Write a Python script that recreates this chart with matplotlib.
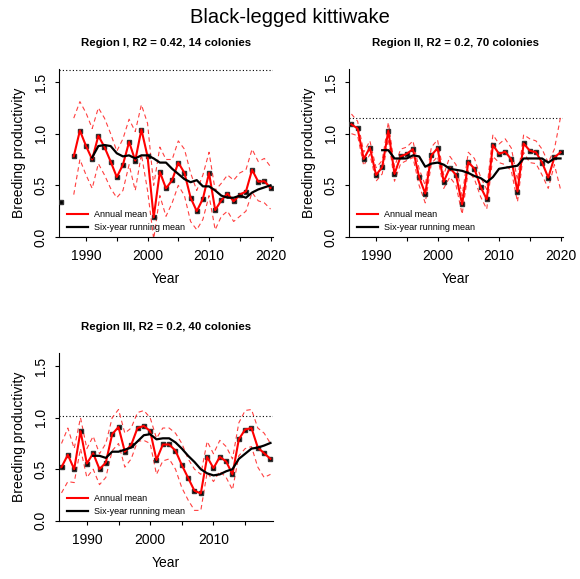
import numpy as np
import matplotlib
matplotlib.use("Agg")
import matplotlib.pyplot as plt

plt.rcParams["font.family"] = ["Liberation Sans", "DejaVu Sans"]

# Valores (productividad reproductiva)
anios_1 = list(range(1986, 2021))
media_1 = [0.335, np.nan, 0.78, 1.03, 0.88, 0.75, 0.98, 0.87, 0.73, 0.58,
           0.70, 0.92, 0.74, 1.04, 0.78, 0.19, 0.63, 0.47, 0.55, 0.72,
           0.62, 0.38, 0.25, 0.37, 0.62, 0.26, 0.355, 0.42, 0.345, 0.41,
           0.44, 0.65, 0.535, 0.54, 0.475]
sup_1 = [np.nan, np.nan, 1.15, 1.31, 1.20, 1.05, 1.25, 1.15, 1.00, 0.83,
         0.95, 1.14, 1.02, 1.28, 1.10, 0.50, 0.87, 0.75, 0.75, 0.93,
         0.85, 0.62, 0.45, 0.60, 0.82, 0.45, 0.52, 0.60, 0.55, 0.62,
         0.65, 0.85, 0.73, 0.76, 0.68]
inf_1 = [np.nan, np.nan, 0.41, 0.75, 0.60, 0.47, 0.71, 0.60, 0.47, 0.38,
         0.45, 0.70, 0.45, 0.80, 0.45, -0.02, 0.40, 0.20, 0.33, 0.50,
         0.40, 0.15, 0.07, 0.17, 0.40, 0.07, 0.20, 0.25, 0.15, 0.20,
         0.25, 0.43, 0.35, 0.33, 0.27]
movil_1 = [np.nan] * 5 + [0.77, 0.88, 0.89, 0.88, 0.81, 0.78, 0.79, 0.76,
                          0.79, 0.79, 0.76, 0.72, 0.72, 0.66, 0.61, 0.56,
                          0.53, 0.55, 0.49, 0.49, 0.45, 0.40, 0.38, 0.38,
                          0.40, 0.38, 0.43, 0.46, 0.48, 0.50]

anios_2 = list(range(1986, 2021))
media_2 = [1.09, 1.05, 0.755, 0.865, 0.60, 0.675, 1.03, 0.61, 0.78, 0.805,
           0.85, 0.58, 0.42, 0.79, 0.86, 0.535, 0.67, 0.60, 0.315, 0.725,
           0.66, 0.485, 0.365, 0.89, 0.805, 0.825, 0.75, 0.44, 0.905, 0.835,
           0.82, 0.72, 0.575, 0.77, 0.82]
sup_2 = [1.19, 1.12, 0.82, 0.93, 0.67, 0.74, 1.11, 0.68, 0.85, 0.87,
         0.93, 0.66, 0.50, 0.87, 0.94, 0.60, 0.78, 0.70, 0.40, 0.82,
         0.76, 0.58, 0.46, 0.99, 0.90, 0.95, 0.86, 0.55, 0.99, 0.95,
         0.93, 0.85, 0.72, 0.85, 1.16]
inf_2 = [1.00, 0.98, 0.69, 0.80, 0.54, 0.61, 0.95, 0.54, 0.71, 0.74,
         0.77, 0.50, 0.33, 0.71, 0.78, 0.47, 0.58, 0.50, 0.22, 0.64,
         0.56, 0.39, 0.27, 0.78, 0.72, 0.70, 0.64, 0.34, 0.82, 0.72,
         0.71, 0.60, 0.47, 0.70, 0.46]
movil_2 = [np.nan] * 5 + [0.84, 0.84, 0.76, 0.76, 0.76, 0.79, 0.78, 0.68,
                          0.71, 0.72, 0.70, 0.66, 0.65, 0.64, 0.62, 0.59,
                          0.57, 0.53, 0.58, 0.66, 0.67, 0.68, 0.69, 0.76,
                          0.76, 0.76, 0.76, 0.72, 0.76, 0.76]

anios_3 = list(range(1986, 2020))
media_3 = [0.52, 0.64, 0.50, 0.87, 0.555, 0.655, 0.50, 0.565, 0.84, 0.91,
           0.67, 0.735, 0.90, 0.92, 0.87, 0.59, 0.74, 0.74, 0.68, 0.54,
           0.415, 0.29, 0.265, 0.62, 0.51, 0.62, 0.575, 0.45, 0.79, 0.885,
           0.90, 0.71, 0.655, 0.60]
sup_3 = [0.75, 0.90, 0.70, 1.00, 0.70, 0.82, 0.65, 0.75, 1.00, 1.08,
         0.85, 0.90, 1.05, 1.07, 1.00, 0.80, 0.90, 0.90, 0.85, 0.75,
         0.60, 0.50, 0.45, 0.77, 0.65, 0.78, 0.72, 0.60, 0.95, 1.07,
         1.08, 0.90, 0.85, 0.75]
inf_3 = [0.27, 0.38, 0.37, 0.70, 0.42, 0.50, 0.35, 0.42, 0.68, 0.75,
         0.52, 0.60, 0.77, 0.78, 0.75, 0.45, 0.58, 0.60, 0.50, 0.32,
         0.20, 0.10, 0.10, 0.47, 0.38, 0.48, 0.42, 0.30, 0.63, 0.70,
         0.72, 0.52, 0.42, 0.45]
movil_3 = [np.nan] * 5 + [0.63, 0.63, 0.61, 0.67, 0.67, 0.69, 0.71, 0.77,
                          0.83, 0.84, 0.79, 0.80, 0.80, 0.76, 0.70, 0.63,
                          0.57, 0.50, 0.46, 0.44, 0.45, 0.48, 0.50, 0.60,
                          0.65, 0.70, 0.71, 0.73, 0.755]

titulos = ["Region I, R2 = 0.42, 14 colonies",
           "Region II, R2 = 0.2, 70 colonies",
           "Region III, R2 = 0.2, 40 colonies"]
referencias = [1.62, 1.15, 1.015]

paneles = [
    (anios_1, media_1, sup_1, inf_1, movil_1),
    (anios_2, media_2, sup_2, inf_2, movil_2),
    (anios_3, media_3, sup_3, inf_3, movil_3),
]

# Posiciones de los ejes en fraccion de la figura (580x579 px)
posiciones = [
    [0.1017, 0.5907, 0.369, 0.290],
    [0.6017, 0.5907, 0.369, 0.290],
    [0.1017, 0.1007, 0.369, 0.289],
]

fig = plt.figure(figsize=(5.80, 5.79), dpi=100)
fig.text(0.5, 0.961, "Black-legged kittiwake", ha="center", va="baseline",
         fontsize=14.5)

for i, (anios, media, sup, inf, movil) in enumerate(paneles):
    ax = fig.add_axes(posiciones[i])
    anios = np.array(anios)

    ax.plot(anios, sup, color="#ff4040", lw=0.8, ls=(0, (4, 3)), zorder=2)
    ax.plot(anios, inf, color="#ff4040", lw=0.8, ls=(0, (4, 3)), zorder=2)
    ax.plot(anios, media, "s", color="black", ms=3.5, mec="#333333", zorder=3)
    ax.plot(anios, media, color="red", lw=1.5, zorder=4, label="Annual mean")
    ax.plot(anios, movil, color="black", lw=1.6, zorder=5,
            label="Six-year running mean")
    ax.axhline(referencias[i], color="black", lw=0.8, ls=(0, (1, 2)), zorder=1)

    ax.set_xlim(anios[0] - 0.4, anios[-1] + 0.4)
    ax.set_ylim(0, 1.625)
    ax.spines["top"].set_visible(False)
    ax.spines["right"].set_visible(False)

    ticks_x = np.arange(1990, anios[-1] + 1, 5)
    ax.set_xticks(ticks_x)
    ax.set_xticklabels([str(t) if t % 10 == 0 else "" for t in ticks_x])
    ax.set_yticks([0, 0.5, 1.0, 1.5])
    ax.set_yticklabels(["0.0", "0.5", "1.0", "1.5"], rotation=90, va="center")
    ax.tick_params(axis="both", direction="out", length=3, labelsize=10)
    ax.tick_params(axis="x", pad=6)
    ax.tick_params(axis="y", pad=5)

    ax.set_xlabel("Year", fontsize=10, labelpad=6)
    ax.set_ylabel("Breeding productivity", fontsize=10, labelpad=6)
    ax.set_title(titulos[i], fontsize=8.2, fontweight="bold", pad=16.5)

    ax.legend(loc="lower left", bbox_to_anchor=(0.037, 0.03), frameon=False,
              fontsize=6.5, handlelength=2.3, labelspacing=0.4,
              handletextpad=0.65, borderpad=0.0, borderaxespad=0.0)

plt.savefig("out.png", dpi=100)
